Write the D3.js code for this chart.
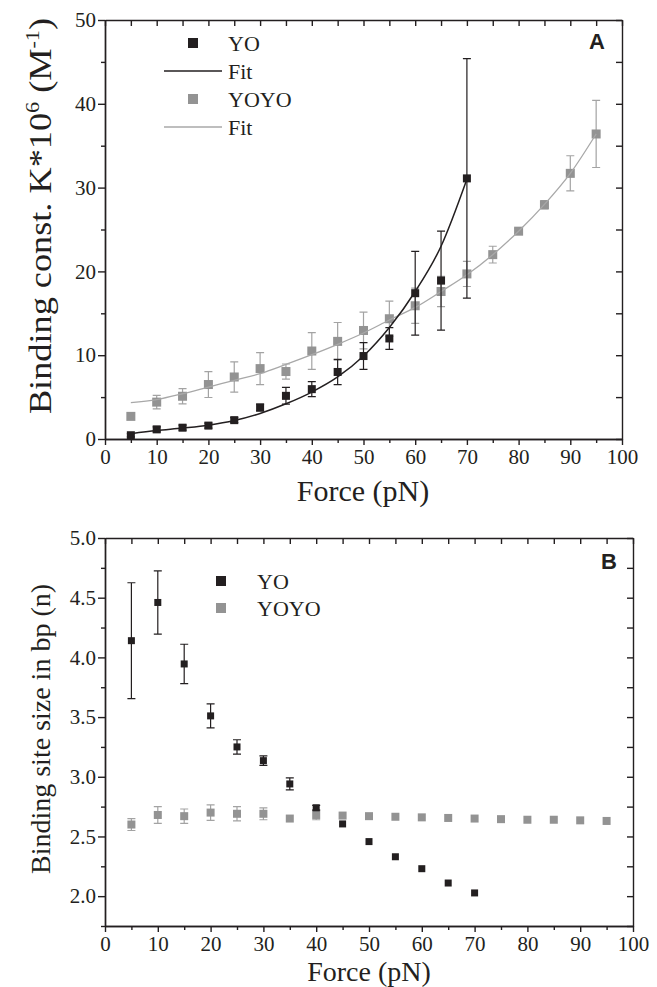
<!DOCTYPE html>
<html>
<head>
<meta charset="utf-8">
<script src="https://cdn.jsdelivr.net/npm/d3@7"></script>
<style>
  body { margin: 0; background: #fff; }
  svg { display: block; }
  .domain, .tick line { stroke: #231f20; stroke-width: 1.4; }
</style>
</head>
<body>
<svg id="chart" width="657" height="987"></svg>
<script>
// ---- panel A: binding constant vs force ----
var yoForce = [5, 10, 15, 20, 25, 30, 35, 40, 45, 50, 55, 60, 65, 70];
var yoK = [0.45, 1.15, 1.35, 1.6, 2.25, 3.75, 5.15, 5.95, 8.0, 9.9, 12.0, 17.4, 18.9, 31.1];
var yoKErr = [0.2, 0.3, 0.3, 0.3, 0.3, 0.4, 1.0, 0.9, 1.5, 1.6, 1.3, 5.0, 5.9, 14.3];
var yoFit = [0.63, 1.0, 1.3, 1.65, 2.2, 3.05, 4.2, 5.6, 7.4, 9.9, 13.3, 17.6, 23.0, 31.0];

var yoyoForce = [5, 10, 15, 20, 25, 30, 35, 40, 45, 50, 55, 60, 65, 70, 75, 80, 85, 90, 95];
var yoyoK = [2.7, 4.4, 5.1, 6.5, 7.4, 8.4, 8.05, 10.5, 11.65, 12.95, 14.35, 15.9, 17.6, 19.7, 22.0, 24.8, 27.95, 31.7, 36.4];
var yoyoKErr = [0, 0.8, 0.9, 1.55, 1.8, 1.9, 0.9, 2.2, 2.25, 2.2, 2.1, 2.1, 1.8, 1.5, 1.0, 0.3, 0.5, 2.1, 4.0];
var yoyoFit = [4.34, 4.7, 5.4, 6.2, 7.0, 7.8, 8.9, 10.06, 11.3, 12.65, 14.2, 15.7, 17.6, 19.6, 22.0, 24.8, 28.0, 31.7, 36.4];

// ---- panel B: binding site size vs force ----
var yoN = [4.14, 4.46, 3.945, 3.51, 3.25, 3.135, 2.94, 2.74, 2.605, 2.457, 2.33, 2.23, 2.11, 2.027];
var yoNErr = [0.485, 0.265, 0.165, 0.10, 0.06, 0.04, 0.05, 0.02, 0, 0, 0, 0, 0, 0];
var yoyoN = [2.60, 2.68, 2.67, 2.70, 2.69, 2.69, 2.65, 2.68, 2.675, 2.67, 2.665, 2.66, 2.655, 2.65, 2.645, 2.64, 2.64, 2.635, 2.63];
var yoyoNErr = [0.05, 0.07, 0.06, 0.065, 0.06, 0.05, 0, 0.04, 0, 0, 0, 0, 0, 0, 0, 0, 0, 0, 0];

// tick values
var forceMajor = [0, 10, 20, 30, 40, 50, 60, 70, 80, 90, 100];
var forceMinor = [5, 15, 25, 35, 45, 55, 65, 75, 85, 95];
var kMajor = [0, 10, 20, 30, 40, 50];
var kMinor = [5, 15, 25, 35, 45];
var nMajor = [2.0, 2.5, 3.0, 3.5, 4.0, 4.5, 5.0];
var nMinor = [1.75, 2.25, 2.75, 3.25, 3.75, 4.25, 4.75];

var BLACK = "#231f20", GREY = "#939393", GREY_LINE = "#a8a8a8";
var SERIF = "'Liberation Serif', Tinos, 'Times New Roman', serif";
var SANS = "'Liberation Sans', Arimo, Arial, sans-serif";

var svg = d3.select("#chart");

function zip(xs, ys, es) {
  return xs.map(function (x, i) { return { x: x, y: ys[i], e: es ? es[i] : 0 }; });
}

function label(x, y, size, str) {
  return svg.append("text").attr("x", x).attr("y", y)
    .attr("font-size", size).style("font-family", SERIF).attr("fill", BLACK).text(str);
}

// draws the frame + ticks for a panel; bottom/left ticks outward, top/right inward
function drawFrame(x, y, xMaj, xMin, yMaj, yMin, yFmt, labelDy) {
  var g = svg.append("g");
  var x0 = x.range()[0], x1 = x.range()[1], y0 = y.range()[0], y1 = y.range()[1];

  g.append("g").attr("transform", "translate(0," + y0 + ")")
    .call(d3.axisBottom(x).tickValues(xMaj).tickSize(6).tickSizeOuter(0).tickPadding(labelDy).tickFormat(d3.format("d")));
  g.append("g").attr("transform", "translate(0," + y0 + ")")
    .call(d3.axisBottom(x).tickValues(xMin).tickSize(4).tickSizeOuter(0).tickFormat(""));
  g.append("g").attr("transform", "translate(0," + y1 + ")")
    .call(d3.axisBottom(x).tickValues(xMaj.concat(xMin)).tickSize(6).tickSizeOuter(0).tickFormat(""));

  g.append("g").attr("transform", "translate(" + x0 + ",0)")
    .call(d3.axisLeft(y).tickValues(yMaj).tickSize(7).tickSizeOuter(0).tickPadding(2).tickFormat(yFmt));
  g.append("g").attr("transform", "translate(" + x0 + ",0)")
    .call(d3.axisLeft(y).tickValues(yMin).tickSize(4).tickSizeOuter(0).tickFormat(""));
  g.append("g").attr("transform", "translate(" + x1 + ",0)")
    .call(d3.axisLeft(y).tickValues(yMaj.concat(yMin)).tickSize(6).tickSizeOuter(0).tickFormat(""));

  g.selectAll(".tick text").attr("fill", BLACK).attr("font-size", 21).style("font-family", SERIF);
  return g;
}

function drawSeries(x, y, pts, color, barColor, size) {
  var g = svg.append("g");
  var withErr = pts.filter(function (d) { return d.e > 0; });
  g.selectAll(".bar").data(withErr).enter().append("path")
    .attr("fill", "none").attr("stroke", barColor).attr("stroke-width", 1.2)
    .attr("d", function (d) {
      var cx = x(d.x), t = y(d.y + d.e), b = y(d.y - d.e);
      return "M" + cx + "," + t + "V" + b + "M" + (cx - 4) + "," + t + "H" + (cx + 4) + "M" + (cx - 4) + "," + b + "H" + (cx + 4);
    });
  g.selectAll(".pt").data(pts).enter().append("rect")
    .attr("x", function (d) { return x(d.x) - size / 2; })
    .attr("y", function (d) { return y(d.y) - size / 2; })
    .attr("width", size).attr("height", size)
    .attr("fill", color);
}

function drawFit(x, y, pts, color, w) {
  svg.append("path").datum(pts)
    .attr("fill", "none").attr("stroke", color).attr("stroke-width", w)
    .attr("d", d3.line().x(function (d) { return x(d.x); }).y(function (d) { return y(d.y); }).curve(d3.curveMonotoneX));
}

// ===== panel A =====
var xA = d3.scaleLinear().domain([0, 100]).range([105, 622]);
var yA = d3.scaleLinear().domain([0, 50]).range([439, 20]);
drawFrame(xA, yA, forceMajor, forceMinor, kMajor, kMinor, d3.format("d"), 4);

drawSeries(xA, yA, zip(yoyoForce, yoyoK, yoyoKErr), GREY, "#a3a3a3", 9);
drawFit(xA, yA, zip(yoyoForce, yoyoFit), GREY_LINE, 1.3);
drawFit(xA, yA, zip(yoForce, yoFit), BLACK, 1.5);
drawSeries(xA, yA, zip(yoForce, yoK, yoKErr), BLACK, BLACK, 8);

label(363, 501, 30, "Force (pN)").attr("text-anchor", "middle");

// y title is drawn stretched along its length, as in the original figure
var tA = label(0, 0, 31, null).attr("transform", "translate(51,216) rotate(-90) scale(1.17,1)")
  .attr("text-anchor", "middle");
tA.append("tspan").text("Binding const. K*10");
tA.append("tspan").attr("font-size", 19).attr("dy", -12).text("6");
tA.append("tspan").attr("dy", 12).text(" (M");
tA.append("tspan").attr("font-size", 19).attr("dy", -12).text("-1");
tA.append("tspan").attr("dy", 12).text(")");

svg.append("text").attr("x", 605).attr("y", 49).attr("text-anchor", "end")
  .attr("font-size", 22).attr("font-weight", "bold").attr("fill", BLACK)
  .style("font-family", SANS).text("A");

// legend A
var legA = [
  { label: "YO", kind: "sq", color: BLACK },
  { label: "Fit", kind: "line", color: BLACK },
  { label: "YOYO", kind: "sq", color: GREY },
  { label: "Fit", kind: "line", color: GREY_LINE }
];
legA.forEach(function (l, i) {
  var cy = 43 + i * 28;
  if (l.kind === "sq") {
    svg.append("rect").attr("x", 188).attr("y", cy - 5).attr("width", 10).attr("height", 10).attr("fill", l.color);
  } else {
    svg.append("line").attr("x1", 164).attr("x2", 222).attr("y1", cy).attr("y2", cy)
      .attr("stroke", l.color).attr("stroke-width", 1.5);
  }
  label(228, cy + 8, 22, l.label);
});

// ===== panel B =====
var xB = d3.scaleLinear().domain([0, 100]).range([105, 633]);
var yB = d3.scaleLinear().domain([1.75, 5.0]).range([926, 538]);
drawFrame(xB, yB, forceMajor, forceMinor, nMajor, nMinor, d3.format(".1f"), 4);

drawSeries(xB, yB, zip(yoyoForce, yoyoN, yoyoNErr), GREY, "#a3a3a3", 8);
drawSeries(xB, yB, zip(yoForce, yoN, yoNErr), BLACK, BLACK, 7);

label(369, 981, 28, "Force (pN)").attr("text-anchor", "middle");

label(0, 0, 28, "Binding site size in bp (n)")
  .attr("transform", "translate(50,729) rotate(-90)").attr("text-anchor", "middle");

svg.append("text").attr("x", 617).attr("y", 569).attr("text-anchor", "end")
  .attr("font-size", 22).attr("font-weight", "bold").attr("fill", BLACK)
  .style("font-family", SANS).text("B");

// legend B
[{ label: "YO", color: BLACK }, { label: "YOYO", color: GREY }].forEach(function (l, i) {
  var cy = 581 + i * 27;
  svg.append("rect").attr("x", 216).attr("y", cy - 5).attr("width", 10).attr("height", 10).attr("fill", l.color);
  label(257, cy + 8, 22, l.label);
});
</script>
</body>
</html>
